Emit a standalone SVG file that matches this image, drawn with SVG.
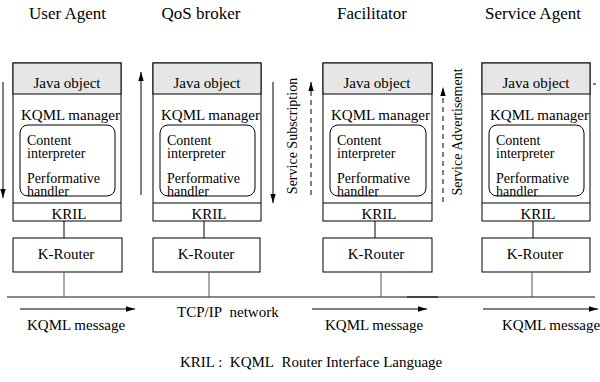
<svg xmlns="http://www.w3.org/2000/svg" width="600" height="382" viewBox="0 0 600 382" font-family="Liberation Serif, DejaVu Serif, serif">
<defs>
<style>
text{font-family:Liberation Serif,DejaVu Serif,serif;fill:#000}
.t{font-size:17px;text-anchor:middle}
.b{font-size:15px}
.s{font-size:14px}
.c{text-anchor:middle}
.box{fill:#fff;stroke:#000;stroke-width:1}
.hdr{fill:#e6e6e6;stroke:#000;stroke-width:1}
.rr{fill:none;stroke:#000;stroke-width:1}
.ln{stroke:#000;stroke-width:1;fill:none}
.gl{stroke:#555;stroke-width:1;fill:none}
.dash{stroke:#000;stroke-width:1;stroke-dasharray:5,4;fill:none}
.v{font-size:14px;text-anchor:middle}
</style>
<marker id="ah" viewBox="0 0 10 10" refX="10" refY="5" markerWidth="9" markerHeight="9" markerUnits="userSpaceOnUse" orient="auto">
<path d="M0,2 L10,5 L0,8 Z" fill="#000"/>
</marker>
</defs>

<g id="user-agent">
<text class="t" x="67.5" y="19">User Agent</text>
<rect class="box" x="13" y="63" width="108" height="158"/>
<rect class="hdr" x="13" y="63" width="108" height="31"/>
<line class="ln" x1="13" y1="203" x2="121" y2="203"/>
<text class="b c" x="67" y="88">Java object</text>
<text class="b" x="21" y="120">KQML manager</text>
<rect class="rr" x="20" y="125" width="95" height="71" rx="8"/>
<text class="s" x="27" y="145">Content</text>
<text class="s" x="27" y="158">interpreter</text>
<text class="s" x="27" y="183">Performative</text>
<text class="s" x="27" y="196">handler</text>
<text class="b c" x="69" y="219">KRIL</text>
<line class="ln" x1="64" y1="221" x2="64" y2="238"/>
<rect class="box" x="13" y="238" width="109" height="34"/>
<text class="b c" x="66" y="259">K-Router</text>
</g>

<g id="qos-broker">
<text class="t" x="201" y="19">QoS broker</text>
<rect class="box" x="153" y="63" width="108" height="158"/>
<rect class="hdr" x="153" y="63" width="108" height="31"/>
<line class="ln" x1="153" y1="203" x2="261" y2="203"/>
<text class="b c" x="207" y="88">Java object</text>
<text class="b" x="161" y="120">KQML manager</text>
<rect class="rr" x="160" y="125" width="95" height="71" rx="8"/>
<text class="s" x="167" y="145">Content</text>
<text class="s" x="167" y="158">interpreter</text>
<text class="s" x="167" y="183">Performative</text>
<text class="s" x="167" y="196">handler</text>
<text class="b c" x="209" y="219">KRIL</text>
<line class="ln" x1="204" y1="221" x2="204" y2="238"/>
<rect class="box" x="153" y="238" width="107" height="34"/>
<text class="b c" x="206" y="259">K-Router</text>
</g>

<g id="facilitator">
<text class="t" x="372" y="19">Facilitator</text>
<rect class="box" x="323" y="63" width="109" height="158"/>
<rect class="hdr" x="323" y="63" width="109" height="31"/>
<line class="ln" x1="323" y1="203" x2="432" y2="203"/>
<text class="b c" x="377" y="88">Java object</text>
<text class="b" x="331" y="120">KQML manager</text>
<rect class="rr" x="330" y="125" width="96" height="71" rx="8"/>
<text class="s" x="337" y="145">Content</text>
<text class="s" x="337" y="158">interpreter</text>
<text class="s" x="337" y="183">Performative</text>
<text class="s" x="337" y="196">handler</text>
<text class="b c" x="379" y="219">KRIL</text>
<line class="ln" x1="375" y1="221" x2="375" y2="238"/>
<rect class="box" x="323" y="238" width="109" height="34"/>
<text class="b c" x="376" y="259">K-Router</text>
</g>

<g id="service-agent">
<text class="t" x="533" y="19">Service Agent</text>
<rect class="box" x="482" y="63" width="108" height="158"/>
<rect class="hdr" x="482" y="63" width="108" height="31"/>
<line class="ln" x1="482" y1="203" x2="590" y2="203"/>
<text class="b c" x="536" y="88">Java object</text>
<text class="b" x="490" y="120">KQML manager</text>
<rect class="rr" x="489" y="125" width="95" height="71" rx="8"/>
<text class="s" x="496" y="145">Content</text>
<text class="s" x="496" y="158">interpreter</text>
<text class="s" x="496" y="183">Performative</text>
<text class="s" x="496" y="196">handler</text>
<text class="b c" x="538" y="219">KRIL</text>
<line class="ln" x1="533" y1="221" x2="533" y2="238"/>
<rect class="box" x="482" y="238" width="108" height="34"/>
<text class="b c" x="535" y="259">K-Router</text>
</g>

<g id="network">
<line x1="7" y1="297" x2="595" y2="297" stroke="#888" stroke-width="2"/>
<line x1="407" y1="297" x2="438" y2="297" stroke="#444" stroke-width="2"/>
<text class="b" x="177" y="317">TCP/IP&#160; network</text>
</g>

<g id="connectors">
<line class="gl" x1="64" y1="272" x2="64" y2="297"/>
<line class="gl" x1="209" y1="272" x2="209" y2="297"/>
<line class="gl" x1="381" y1="272" x2="381" y2="297"/>
<line class="gl" x1="532" y1="272" x2="532" y2="297"/>
<line class="ln" x1="3" y1="82" x2="3" y2="198" marker-end="url(#ah)"/>
<line class="ln" x1="141" y1="195" x2="141" y2="72" marker-end="url(#ah)"/>
<line class="ln" x1="273" y1="82" x2="273" y2="203" marker-end="url(#ah)"/>
<line class="dash" x1="311" y1="195" x2="311" y2="82" marker-end="url(#ah)"/>
<line class="dash" x1="443" y1="202" x2="443" y2="87" marker-end="url(#ah)"/>
<line class="ln" x1="593" y1="84" x2="596" y2="84"/>
<line class="ln" x1="20" y1="309" x2="135" y2="309" marker-end="url(#ah)"/>
<line class="ln" x1="312" y1="309" x2="427" y2="309" marker-end="url(#ah)"/>
<line class="ln" x1="483" y1="309" x2="598" y2="309" marker-end="url(#ah)"/>
</g>

<g id="labels">
<text class="v" transform="translate(297,136) rotate(-90)">Service Subscription</text>
<text class="v" transform="translate(462,132) rotate(-90)">Service Advertisement</text>
<text class="b" x="27" y="330">KQML message</text>
<text class="b" x="325" y="330">KQML message</text>
<text class="b" x="502" y="330">KQML message</text>
<text class="b" x="180" y="367">KRIL :&#160; KQML&#160; Router Interface Language</text>
</g>
</svg>
